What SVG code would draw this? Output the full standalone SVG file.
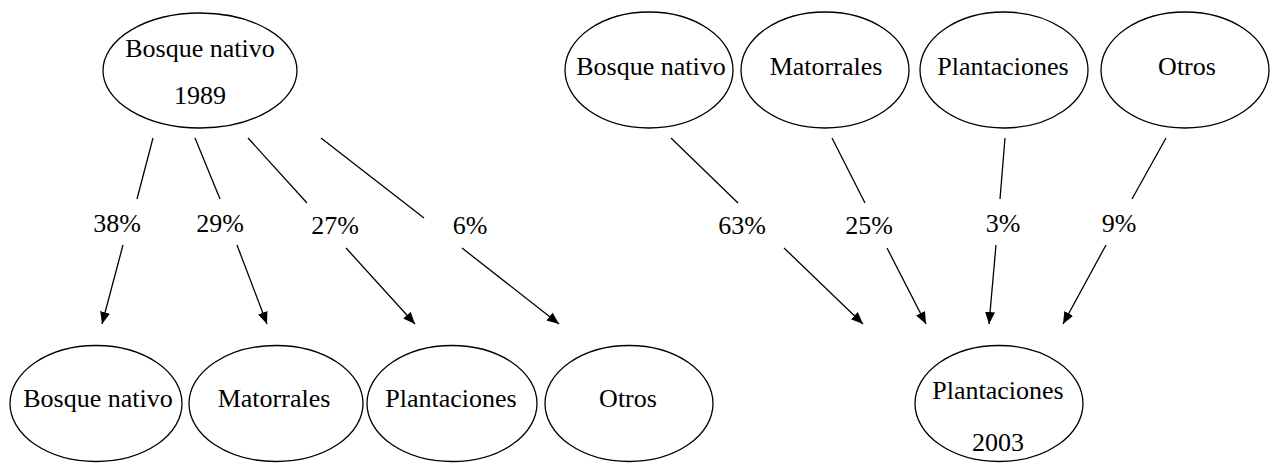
<svg xmlns="http://www.w3.org/2000/svg" width="1270" height="464" viewBox="0 0 1270 464">
<defs>
<style>
.n ellipse{fill:#fff;stroke:#000;stroke-width:1.3}
text{font-family:"Liberation Serif","Times New Roman",serif;font-size:26px;fill:#000;text-anchor:middle}
.c line{stroke:#000;stroke-width:1.3}
</style>
<marker id="ah" viewBox="0 0 12 10" refX="12" refY="5" markerWidth="12" markerHeight="10" markerUnits="userSpaceOnUse" orient="auto">
<path d="M0,0 L12,5 L0,10 z" fill="#000"/>
</marker>
</defs>
<rect width="1270" height="464" fill="#fff"/>
<g id="n_bn1989" class="n"><ellipse cx="200" cy="70.5" rx="97" ry="57.5"/><text x="200" y="57">Bosque nativo</text><text x="200" y="104">1989</text></g>
<g id="n_bn_b" class="n"><ellipse cx="96" cy="403.5" rx="86" ry="58"/><text x="98" y="407">Bosque nativo</text></g>
<g id="n_mat_b" class="n"><ellipse cx="276" cy="403.5" rx="87" ry="58"/><text x="274" y="407">Matorrales</text></g>
<g id="n_pla_b" class="n"><ellipse cx="452" cy="403.5" rx="85" ry="58"/><text x="451" y="407">Plantaciones</text></g>
<g id="n_otr_b" class="n"><ellipse cx="629" cy="403.5" rx="84" ry="58"/><text x="628" y="407">Otros</text></g>
<g id="n_bn_t" class="n"><ellipse cx="649" cy="70" rx="84" ry="58"/><text x="651" y="75">Bosque nativo</text></g>
<g id="n_mat_t" class="n"><ellipse cx="825" cy="70" rx="84" ry="58"/><text x="826" y="75">Matorrales</text></g>
<g id="n_pla_t" class="n"><ellipse cx="1004" cy="70" rx="84" ry="58"/><text x="1003" y="75">Plantaciones</text></g>
<g id="n_otr_t" class="n"><ellipse cx="1185" cy="70" rx="84" ry="58"/><text x="1187" y="75">Otros</text></g>
<g id="n_pla2003" class="n"><ellipse cx="999" cy="403.5" rx="84" ry="58"/><text x="998" y="399">Plantaciones</text><text x="998" y="451">2003</text></g>
<g id="connectors" class="c">
<line x1="153" y1="138" x2="137" y2="199"/><line x1="123" y1="245" x2="102" y2="324" marker-end="url(#ah)"/>
<line x1="195" y1="138" x2="220" y2="199"/><line x1="237" y1="245" x2="267" y2="324" marker-end="url(#ah)"/>
<line x1="248" y1="138" x2="307" y2="203"/><line x1="346" y1="248" x2="415" y2="324" marker-end="url(#ah)"/>
<line x1="321" y1="138" x2="424" y2="218"/><line x1="462" y1="248" x2="559" y2="324" marker-end="url(#ah)"/>
<line x1="671" y1="138" x2="738" y2="203"/><line x1="784" y1="248" x2="863" y2="324" marker-end="url(#ah)"/>
<line x1="832" y1="138" x2="865" y2="203"/><line x1="887" y1="248" x2="926" y2="324" marker-end="url(#ah)"/>
<line x1="1005" y1="138" x2="1000" y2="199"/><line x1="996" y1="245" x2="989" y2="324" marker-end="url(#ah)"/>
<line x1="1166" y1="138" x2="1132" y2="199"/><line x1="1106" y1="245" x2="1063" y2="324" marker-end="url(#ah)"/>
</g>
<g id="labels">
<text x="117" y="232">38%</text><text x="220" y="232">29%</text><text x="335" y="234">27%</text><text x="470" y="234">6%</text>
<text x="742" y="234">63%</text><text x="869" y="234">25%</text><text x="1003" y="232">3%</text><text x="1119" y="232">9%</text>
</g>
</svg>
